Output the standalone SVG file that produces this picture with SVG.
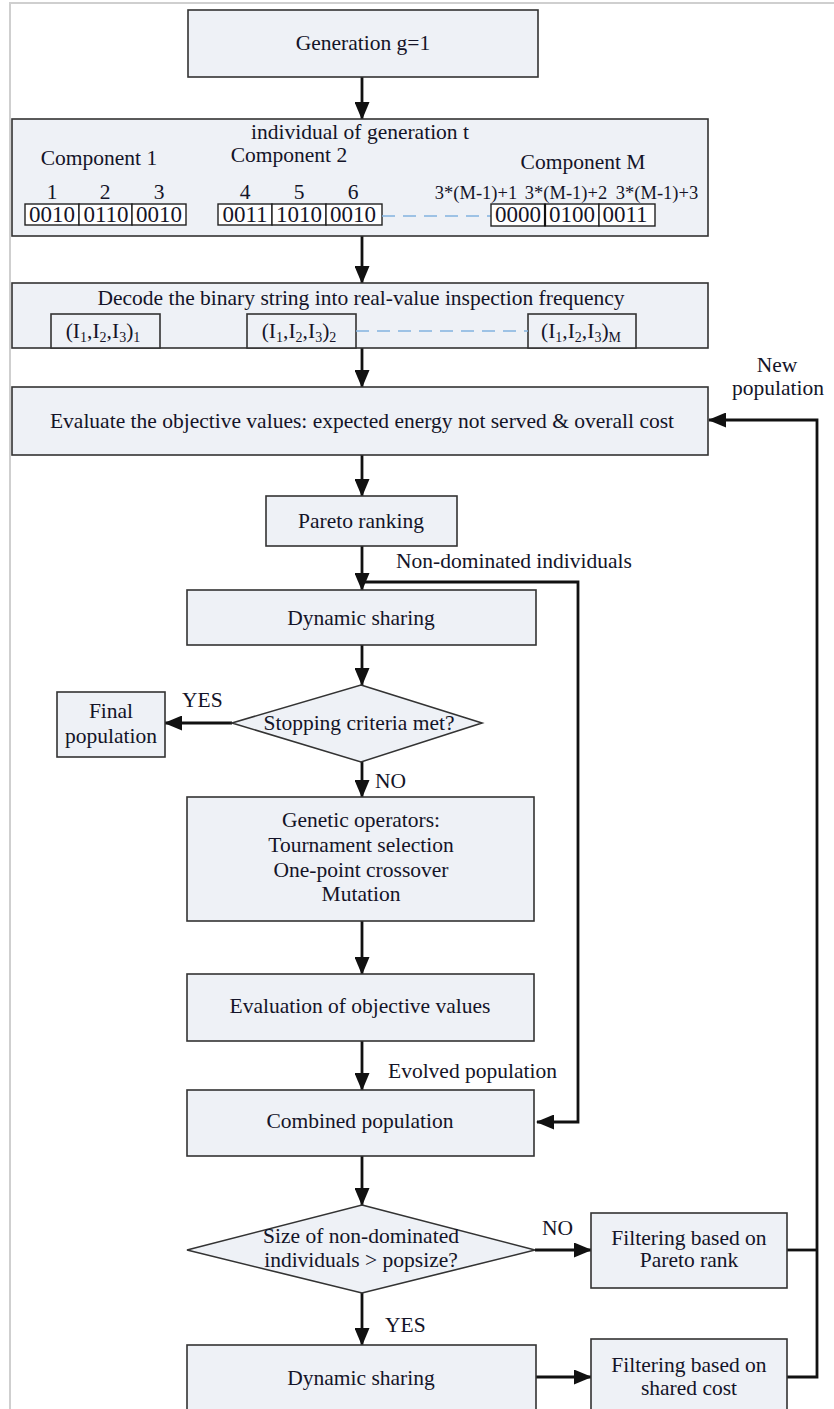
<svg xmlns="http://www.w3.org/2000/svg" width="834" height="1409" viewBox="0 0 834 1409">
  <style>
    .box { fill: #eef1f6; stroke: #333; stroke-width: 1.6; }
    .cell { fill: #ffffff; stroke: #222; stroke-width: 1.4; }
    .t { font-family: "Liberation Serif", "Times New Roman", serif; font-size: 21.5px; fill: #141428; text-anchor: middle; }
    .s { font-size: 18.5px; }
    .b { font-size: 23px; }
    .lbl { font-family: "Liberation Serif", "Times New Roman", serif; font-size: 21.5px; fill: #141428; }
    .wire { fill: none; stroke: #111; stroke-width: 2.8; }
    .dash { fill: none; stroke: #82b3e0; stroke-width: 1.6; stroke-dasharray: 13 8; }
  </style>
  <defs>
    <marker id="head" markerUnits="userSpaceOnUse" markerWidth="18" markerHeight="15" refX="17" refY="7.5" orient="auto">
      <path d="M0,0 L18,7.5 L0,15 Z" fill="#111"/>
    </marker>
  </defs>

  <rect width="834" height="1409" fill="#ffffff"/>
  <!-- page frame -->
  <path d="M10,1409 L10,3 L834,3" fill="none" stroke="#cfcfcf" stroke-width="2"/>

  <g id="connectors">
    <line class="wire" x1="362" y1="77" x2="362" y2="119" marker-end="url(#head)"/>
    <line class="wire" x1="362" y1="236" x2="362" y2="283" marker-end="url(#head)"/>
    <line class="wire" x1="362" y1="348" x2="362" y2="387" marker-end="url(#head)"/>
    <line class="wire" x1="362" y1="455" x2="362" y2="496" marker-end="url(#head)"/>
    <line class="wire" x1="362" y1="546" x2="362" y2="590" marker-end="url(#head)"/>
    <path class="wire" d="M362,582 L578,582 L578,1122 L537,1122" marker-end="url(#head)"/>
    <line class="wire" x1="362" y1="645" x2="362" y2="685" marker-end="url(#head)"/>
    <line class="wire" x1="232" y1="723" x2="165" y2="723" marker-end="url(#head)"/>
    <line class="wire" x1="362" y1="762" x2="362" y2="797" marker-end="url(#head)"/>
    <line class="wire" x1="362" y1="921" x2="362" y2="974" marker-end="url(#head)"/>
    <line class="wire" x1="362" y1="1041" x2="362" y2="1090" marker-end="url(#head)"/>
    <line class="wire" x1="362" y1="1156" x2="362" y2="1205" marker-end="url(#head)"/>
    <line class="wire" x1="535" y1="1250" x2="591" y2="1250" marker-end="url(#head)"/>
    <line class="wire" x1="362" y1="1293" x2="362" y2="1345" marker-end="url(#head)"/>
    <line class="wire" x1="536" y1="1377" x2="591" y2="1377" marker-end="url(#head)"/>
    <line class="wire" x1="787" y1="1250" x2="817" y2="1250"/>
    <path class="wire" d="M787,1377 L817,1377 L817,420 L709,420" marker-end="url(#head)"/>
    <text class="lbl" x="396" y="568">Non-dominated individuals</text>
    <text class="lbl" x="182" y="707">YES</text>
    <text class="lbl" x="375" y="788">NO</text>
    <text class="lbl" x="388" y="1078">Evolved population</text>
    <text class="lbl" x="542" y="1235">NO</text>
    <text class="lbl" x="385" y="1332">YES</text>
    <text class="t" x="777" y="372">New</text>
    <text class="t" x="778" y="395">population</text>
  </g>

  <g id="generation">
    <rect class="box" x="188" y="10" width="350" height="67"/>
    <text class="t" x="363" y="50">Generation g=1</text>
  </g>

  <g id="individual">
    <rect class="box" x="12" y="119" width="696" height="117"/>
    <text class="t" x="360" y="139">individual of generation t</text>
    <text class="t" x="99" y="165">Component 1</text>
    <text class="t" x="289" y="162">Component 2</text>
    <text class="t" x="583" y="169">Component M</text>
    <text class="t" x="52" y="199">1</text>
    <text class="t" x="105" y="199">2</text>
    <text class="t" x="159" y="199">3</text>
    <text class="t" x="245" y="199">4</text>
    <text class="t" x="299" y="199">5</text>
    <text class="t" x="353" y="199">6</text>
    <text class="t s" x="476" y="199">3*(M-1)+1</text>
    <text class="t s" x="566" y="199">3*(M-1)+2</text>
    <text class="t s" x="657" y="199">3*(M-1)+3</text>
    <rect class="cell" x="25" y="204" width="54" height="21"/>
    <rect class="cell" x="79" y="204" width="53" height="21"/>
    <rect class="cell" x="132" y="204" width="54" height="21"/>
    <text class="t b" x="52" y="222">0010</text>
    <text class="t b" x="106" y="222">0110</text>
    <text class="t b" x="159" y="222">0010</text>
    <rect class="cell" x="218" y="204" width="54" height="21"/>
    <rect class="cell" x="272" y="204" width="54" height="21"/>
    <rect class="cell" x="326" y="204" width="56" height="21"/>
    <text class="t b" x="245" y="222">0011</text>
    <text class="t b" x="299" y="222">1010</text>
    <text class="t b" x="353" y="222">0010</text>
    <line class="dash" x1="382" y1="216" x2="491" y2="216"/>
    <rect class="cell" x="491" y="204" width="54" height="22"/>
    <rect class="cell" x="545" y="204" width="54" height="22"/>
    <line x1="545" y1="204" x2="545" y2="226" stroke="#111" stroke-width="2.2"/>
    <rect class="cell" x="599" y="204" width="56" height="22"/>
    <text class="t b" x="518" y="222">0000</text>
    <text class="t b" x="572" y="222">0100</text>
    <text class="t b" x="625" y="222">0011</text>
  </g>

  <g id="decode">
    <rect class="box" x="12" y="283" width="696" height="65"/>
    <text class="t" x="361" y="305">Decode the binary string into real-value inspection frequency</text>
    <rect class="box" x="51" y="314" width="109" height="34"/>
    <rect class="box" x="247" y="314" width="109" height="34"/>
    <rect class="box" x="528" y="314" width="108" height="34"/>
    <line class="dash" x1="356" y1="331" x2="528" y2="331"/>
    <text class="t" x="103" y="338">(I<tspan font-size="14" dy="4">1</tspan><tspan dy="-4">,I</tspan><tspan font-size="14" dy="4">2</tspan><tspan dy="-4">,I</tspan><tspan font-size="14" dy="4">3</tspan><tspan dy="-4">)</tspan><tspan font-size="14" dy="4">1</tspan></text>
    <text class="t" x="299" y="338">(I<tspan font-size="14" dy="4">1</tspan><tspan dy="-4">,I</tspan><tspan font-size="14" dy="4">2</tspan><tspan dy="-4">,I</tspan><tspan font-size="14" dy="4">3</tspan><tspan dy="-4">)</tspan><tspan font-size="14" dy="4">2</tspan></text>
    <text class="t" x="581" y="338">(I<tspan font-size="14" dy="4">1</tspan><tspan dy="-4">,I</tspan><tspan font-size="14" dy="4">2</tspan><tspan dy="-4">,I</tspan><tspan font-size="14" dy="4">3</tspan><tspan dy="-4">)</tspan><tspan font-size="14" dy="4">M</tspan></text>
  </g>

  <g id="evaluate">
    <rect class="box" x="12" y="387" width="696" height="68"/>
    <text class="t" x="362" y="428">Evaluate the objective values: expected energy not served &amp; overall cost</text>
  </g>

  <g id="pareto-ranking">
    <rect class="box" x="266" y="496" width="191" height="50"/>
    <text class="t" x="361" y="528">Pareto ranking</text>
  </g>

  <g id="dynamic-sharing-1">
    <rect class="box" x="187" y="590" width="349" height="55"/>
    <text class="t" x="361" y="625">Dynamic sharing</text>
  </g>

  <g id="stopping-criteria">
    <polygon class="box" points="361,685 482,723 361,762 232,723"/>
    <text class="t" x="359" y="730">Stopping criteria met?</text>
  </g>

  <g id="final-population">
    <rect class="box" x="57" y="692" width="108" height="65"/>
    <text class="t" x="111" y="718">Final</text>
    <text class="t" x="111" y="743">population</text>
  </g>

  <g id="genetic-operators">
    <rect class="box" x="187" y="797" width="347" height="124"/>
    <text class="t" x="361" y="827">Genetic operators:</text>
    <text class="t" x="361" y="852">Tournament selection</text>
    <text class="t" x="361" y="877">One-point crossover</text>
    <text class="t" x="361" y="901">Mutation</text>
  </g>

  <g id="evaluation">
    <rect class="box" x="187" y="974" width="347" height="67"/>
    <text class="t" x="360" y="1013">Evaluation of objective values</text>
  </g>

  <g id="combined-population">
    <rect class="box" x="187" y="1090" width="347" height="66"/>
    <text class="t" x="360" y="1128">Combined population</text>
  </g>

  <g id="size-check">
    <polygon class="box" points="362,1205 535,1250 362,1293 187,1250"/>
    <text class="t" x="361" y="1243">Size of non-dominated</text>
    <text class="t" x="361" y="1267">individuals &gt; popsize?</text>
  </g>

  <g id="filter-pareto-rank">
    <rect class="box" x="591" y="1213" width="196" height="75"/>
    <text class="t" x="689" y="1245">Filtering based on</text>
    <text class="t" x="689" y="1267">Pareto rank</text>
  </g>

  <g id="dynamic-sharing-2">
    <rect class="box" x="187" y="1345" width="349" height="70"/>
    <text class="t" x="361" y="1385">Dynamic sharing</text>
  </g>

  <g id="filter-shared-cost">
    <rect class="box" x="591" y="1339" width="196" height="76"/>
    <text class="t" x="689" y="1372">Filtering based on</text>
    <text class="t" x="689" y="1395">shared cost</text>
  </g>
</svg>
